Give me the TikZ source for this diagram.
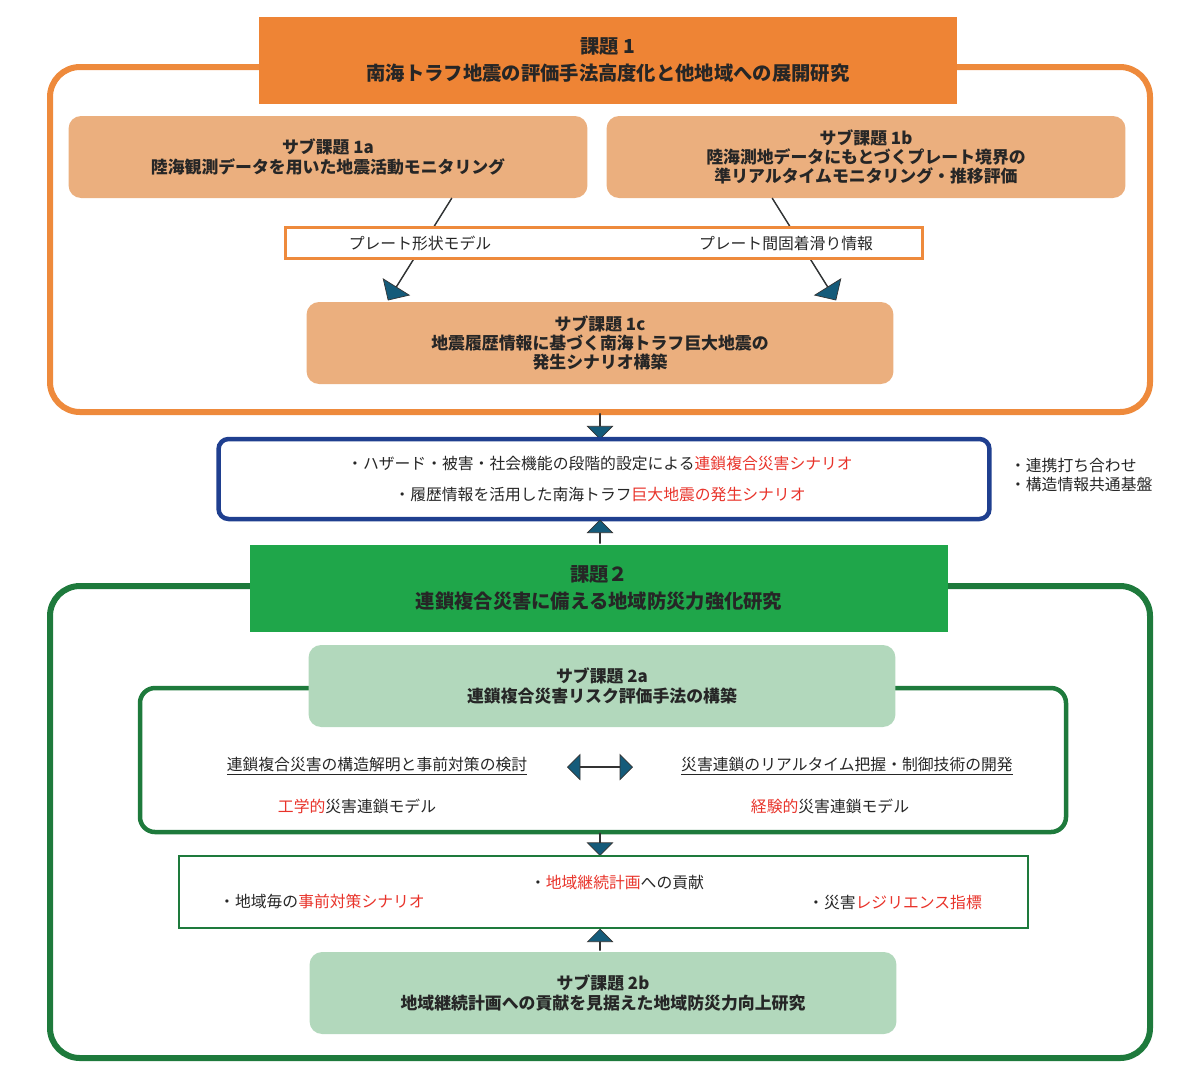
\documentclass[tikz,border=0pt]{standalone}
\usepackage{fontspec}
\setmainfont{Noto Sans CJK JP}
\usetikzlibrary{arrows.meta,shapes.arrows}
\definecolor{orgline}{HTML}{EE8A3C}
\definecolor{orgtitle}{HTML}{EE8435}
\definecolor{orgsub}{HTML}{EBAF7E}
\definecolor{grnline}{HTML}{1E7A3C}
\definecolor{grntitle}{HTML}{1FA64A}
\definecolor{grnsub}{HTML}{B2D8BC}
\definecolor{navy}{HTML}{1F3F8F}
\definecolor{teal}{HTML}{155B7A}
\definecolor{txtred}{HTML}{E8332A}
\tikzset{
  frame/.style={draw=#1,line width=1.2mm,rounded corners=6mm},
  title/.style={fill=#1,minimum width=13.98cm,minimum height=1.74cm,align=center,font=\fontsize{11}{15}\selectfont\bfseries,text=black!85},
  sub/.style={fill=#1,rounded corners=2.5mm,minimum width=10.38cm,minimum height=1.64cm,align=center,font=\fontsize{9.6}{11}\selectfont\bfseries,text=black!85},
  txt/.style={font=\fontsize{9}{11}\selectfont,text=black!85,inner sep=1pt},
  blk/.style={draw=black!80,fill=teal,line width=.4pt,single arrow,single arrow head extend=1.5mm,minimum height=#1,inner sep=0pt,minimum width=5mm},
  diag/.style={draw=black!80,fill=teal,single arrow,single arrow head extend=3mm,minimum width=5.5mm,inner sep=0pt,minimum height=2.4cm}
}
\begin{document}
\begin{tikzpicture}[x=0.02cm,y=-0.02cm]
\useasboundingbox (0,0) rectangle (1200,1080);
% task 1
\draw[frame=orgline] (50,67) rectangle (1150,412);
\node[title=orgtitle] (t1) at (608,60) {課題 1\\南海トラフ地震の評価手法高度化と他地域への展開研究};
\node[sub=orgsub] (s1a) at (328,157) {サブ課題 1a\\陸海観測データを用いた地震活動モニタリング};
\node[sub=orgsub] (s1b) at (866,157) {サブ課題 1b\\陸海測地データにもとづくプレート境界の\\準リアルタイムモニタリング・推移評価};
\node[sub=orgsub,minimum width=11.74cm] (s1c) at (600,343) {サブ課題 1c\\地震履歴情報に基づく南海トラフ巨大地震の\\発生シナリオ構築};
\node[diag,rotate=-122] (a1) at (420,249) {};
\node[diag,rotate=-58] (a2) at (804,249) {};
\node[draw=orgline,line width=.6mm,fill=white,minimum width=12.76cm,minimum height=.62cm] (band) at (604,243) {};
\node[txt] (m1) at (420,243) {プレート形状モデル};
\node[txt] (m2) at (786,243) {プレート間固着滑り情報};
% joint box
\node[blk=5mm,rotate=-90] (d1) at (600,426) {};
\node[draw=navy,line width=.9mm,rounded corners=2mm,minimum width=15.42cm,minimum height=1.6cm] (mid) at (604,479) {};
\node[txt] (j1) at (600,463) {・ハザード・被害・社会機能の段階的設定による\textcolor{txtred}{連鎖複合災害シナリオ}};
\node[txt] (j2) at (600,495) {・履歴情報を活用した南海トラフ\textcolor{txtred}{巨大地震の発生シナリオ}};
\node[txt,align=left,anchor=west] (side) at (1008,475) {・連携打ち合わせ\\・構造情報共通基盤};
\node[blk=4.6mm,rotate=90] (u1) at (600,532) {};
% task 2
\draw[frame=grnline] (50,586) rectangle (1150,1058);
\node[title=grntitle] (t2) at (599,588) {課題２\\連鎖複合災害に備える地域防災力強化研究};
\draw[draw=grnline,line width=.9mm,rounded corners=3mm] (140,688) rectangle (1066,832);
\node[sub=grnsub,minimum width=11.74cm] (s2a) at (602,686) {サブ課題 2a\\連鎖複合災害リスク評価手法の構築};
\node[txt] (k1) at (377,766) {\underline{連鎖複合災害の構造解明と事前対策の検討}};
\node[txt] (k2) at (847,766) {\underline{災害連鎖のリアルタイム把握・制御技術の開発}};
\node[draw=black!80,fill=teal,double arrow,double arrow head extend=1.5mm,minimum width=5mm,minimum height=1.3cm,inner sep=0pt] (dbl) at (600,767) {};
\node[txt] (e1) at (357,806) {\textcolor{txtred}{工学的}災害連鎖モデル};
\node[txt] (e2) at (830,806) {\textcolor{txtred}{経験的}災害連鎖モデル};
\node[blk=4.4mm,rotate=-90] (d2) at (600,844) {};
\draw[grnline,line width=.3mm] (179,856) rectangle (1028,928);
\node[txt] (r1) at (617,882) {・\textcolor{txtred}{地域継続計画}への貢献};
\node[txt] (r2) at (322,901) {・地域毎の\textcolor{txtred}{事前対策シナリオ}};
\node[txt] (r3) at (895,903) {・災害\textcolor{txtred}{レジリエンス指標}};
\node[blk=4.2mm,rotate=90] (u2) at (600,940) {};
\node[sub=grnsub,minimum width=11.74cm] (s2b) at (603,993) {サブ課題 2b\\地域継続計画への貢献を見据えた地域防災力向上研究};
\end{tikzpicture}
\end{document}
